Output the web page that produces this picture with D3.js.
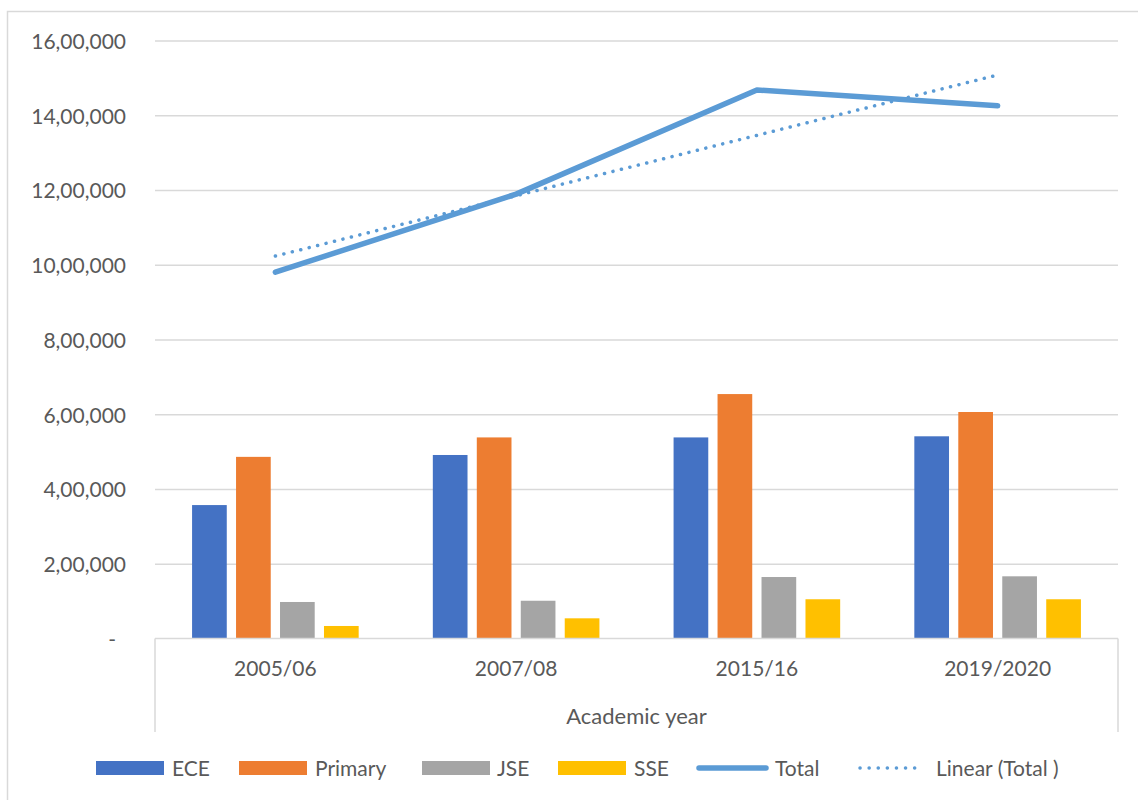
<!DOCTYPE html>
<html>
<head>
<meta charset="utf-8">
<script src="https://cdn.jsdelivr.net/npm/d3@7"></script>
<style>
	body { margin: 0; background: #fff; }
	svg text { font-family: Lato, "Open Sans", sans-serif; fill: #595959; }
</style>
</head>
<body>
<svg width="1138" height="800"></svg>
<script>

// academic years on the x axis
var years = ["2005/06", "2007/08", "2015/16", "2019/2020"];

// enrolment by level
var ece     = [357000, 491000, 538000, 541000];
var primary = [486000, 538000, 654000, 606000];
var jse     = [ 97700, 101000, 164500, 166400];
var sse     = [ 33500,  54000, 105000, 105000];

// total line
var total = [980000, 1189000, 1467500, 1425500];

var seriesNames = ["ECE", "Primary", "JSE", "SSE"];
var yTicks = [0, 200000, 400000, 600000, 800000, 1000000, 1200000, 1400000, 1600000];

var colors = {
	"ECE": "#4472C4",
	"Primary": "#ED7D31",
	"JSE": "#A5A5A5",
	"SSE": "#FFC000",
	"Total": "#5B9BD5"
};

var svg = d3.select("svg"),
	width = +svg.attr("width"),
	height = +svg.attr("height");

var margin = {left: 155, right: 1118, top: 40.5, bottom: 638.5};
var fontSize = "21px";

// chart border (only top/left fall inside the picture)
svg.append("rect")
	.attr("x", 7.5)
	.attr("y", 11.5)
	.attr("width", 1200)
	.attr("height", 1000)
	.attr("fill", "none")
	.attr("stroke", "#d9d9d9")
	.attr("stroke-width", 1.5);

// indian style grouping: 16,00,000
function lakhFormat(v) {
	if (v === 0) return "-";
	var s = String(Math.round(v));
	var last3 = s.slice(-3);
	var rest = s.slice(0, -3);
	if (rest.length) {
		rest = rest.replace(/\B(?=(\d{2})+(?!\d))/g, ",");
		return rest + "," + last3;
	}
	return last3;
}

var x0 = d3.scaleBand()
	.domain(years)
	.range([margin.left, margin.right]);

var groupW = x0.bandwidth() * 0.692;

var x1 = d3.scaleBand()
	.domain(seriesNames)
	.range([0, groupW])
	.paddingInner(0.211);

var y = d3.scaleLinear()
	.domain([0, 1600000])
	.range([margin.bottom, margin.top]);

// gridlines
var grid = svg.append("g")
	.attr("class", "grid")
	.attr("transform", "translate(" + margin.left + ",0)")
	.call(d3.axisLeft(y)
		.tickValues(yTicks.slice(1))
		.tickSize(-(margin.right - margin.left))
		.tickFormat(""));
grid.select(".domain").remove();
grid.selectAll("line")
	.attr("stroke", "#d9d9d9")
	.attr("stroke-width", 1.5);

// y labels
var yAxis = svg.append("g")
	.attr("transform", "translate(" + margin.left + ",0)")
	.call(d3.axisLeft(y)
		.tickValues(yTicks)
		.tickSize(0)
		.tickPadding(29)
		.tickFormat(lakhFormat));
yAxis.select(".domain").remove();
yAxis.selectAll("text")
	.attr("dy", "0.37em")
	.style("font-size", fontSize)
	.style("fill", "#595959")
	.style("font-family", "Lato, 'Open Sans', sans-serif")
	.filter(function(d) { return d === 0; })
		.attr("x", -39);

// bars
var table = seriesNames.map(function(name, i) {
	var vals = [ece, primary, jse, sse][i];
	return years.map(function(yr, j) { return {series: name, year: yr, value: vals[j]}; });
});

var barG = svg.append("g").attr("class", "bars");
table.forEach(function(rows) {
	barG.selectAll(null)
		.data(rows)
		.enter().append("rect")
			.attr("x", function(d) { return x0(d.year) + (x0.bandwidth() - groupW) / 2 + x1(d.series); })
			.attr("y", function(d) { return y(d.value); })
			.attr("width", x1.bandwidth())
			.attr("height", function(d) { return y(0) - y(d.value); })
			.attr("fill", function(d) { return colors[d.series]; });
});

// category axis box
var axisG = svg.append("g").attr("class", "xbox");
axisG.append("line")
	.attr("x1", margin.left).attr("x2", margin.right)
	.attr("y1", y(0)).attr("y2", y(0));
axisG.append("line")
	.attr("x1", margin.left).attr("x2", margin.left)
	.attr("y1", y(0)).attr("y2", 732);
axisG.append("line")
	.attr("x1", margin.right).attr("x2", margin.right)
	.attr("y1", y(0)).attr("y2", 732);
axisG.selectAll("line")
	.attr("stroke", "#d9d9d9")
	.attr("stroke-width", 1.5);

var xAxis = svg.append("g")
	.attr("transform", "translate(0," + y(0) + ")")
	.call(d3.axisBottom(x0).tickSize(0).tickPadding(23));
xAxis.select(".domain").remove();
xAxis.selectAll("text")
	.style("font-size", fontSize)
	.style("fill", "#595959")
	.style("font-family", "Lato, 'Open Sans', sans-serif");

svg.append("text")
	.attr("x", (margin.left + margin.right) / 2)
	.attr("y", 723.5)
	.attr("text-anchor", "middle")
	.style("font-size", "22px")
	.text("Academic year");

// total line
var cx = function(d, i) { return x0(years[i]) + x0.bandwidth() / 2; };

var line = d3.line()
	.x(cx)
	.y(function(d) { return y(d); });

// linear trend of total (least squares, like the spreadsheet trendline)
var xs = total.map(function(d, i) { return i + 1; });
var mx = d3.mean(xs), my = d3.mean(total);
var slope = d3.sum(xs, function(v, i) { return (v - mx) * (total[i] - my); }) /
	d3.sum(xs, function(v) { return (v - mx) * (v - mx); });
var trend = xs.map(function(v) { return my + slope * (v - mx); });

svg.append("path")
	.datum(trend)
	.attr("d", line)
	.attr("fill", "none")
	.attr("stroke", colors.Total)
	.attr("stroke-width", 3.5)
	.attr("stroke-linecap", "round")
	.attr("stroke-dasharray", "0.1 8.6");

svg.append("path")
	.datum(total)
	.attr("d", line)
	.attr("fill", "none")
	.attr("stroke", colors.Total)
	.attr("stroke-width", 5.5)
	.attr("stroke-linecap", "round")
	.attr("stroke-linejoin", "round");

// legend
var legendItems = [
	{name: "ECE", kind: "bar", x: 96, tx: 172},
	{name: "Primary", kind: "bar", x: 239, tx: 315},
	{name: "JSE", kind: "bar", x: 422, tx: 497},
	{name: "SSE", kind: "bar", x: 558, tx: 634},
	{name: "Total", kind: "line", x: 699, tx: 775},
	{name: "Linear (Total )", kind: "dots", x: 859, tx: 936}
];

var legend = svg.append("g").attr("class", "legend");

legendItems.forEach(function(item) {
	if (item.kind === "bar") {
		legend.append("rect")
			.attr("x", item.x)
			.attr("y", 761)
			.attr("width", 68)
			.attr("height", 14)
			.attr("fill", colors[item.name]);
	} else if (item.kind === "line") {
		legend.append("line")
			.attr("x1", item.x).attr("x2", item.x + 67)
			.attr("y1", 768).attr("y2", 768)
			.attr("stroke", colors.Total)
			.attr("stroke-width", 5.5)
			.attr("stroke-linecap", "round");
	} else {
		legend.append("line")
			.attr("x1", item.x + 1).attr("x2", item.x + 64)
			.attr("y1", 768).attr("y2", 768)
			.attr("stroke", colors.Total)
			.attr("stroke-width", 3.5)
			.attr("stroke-linecap", "round")
			.attr("stroke-dasharray", "0.1 9");
	}
	legend.append("text")
		.attr("x", item.tx)
		.attr("y", 775.5)
		.style("font-size", fontSize)
		.text(item.name);
});

</script>
</body>
</html>
